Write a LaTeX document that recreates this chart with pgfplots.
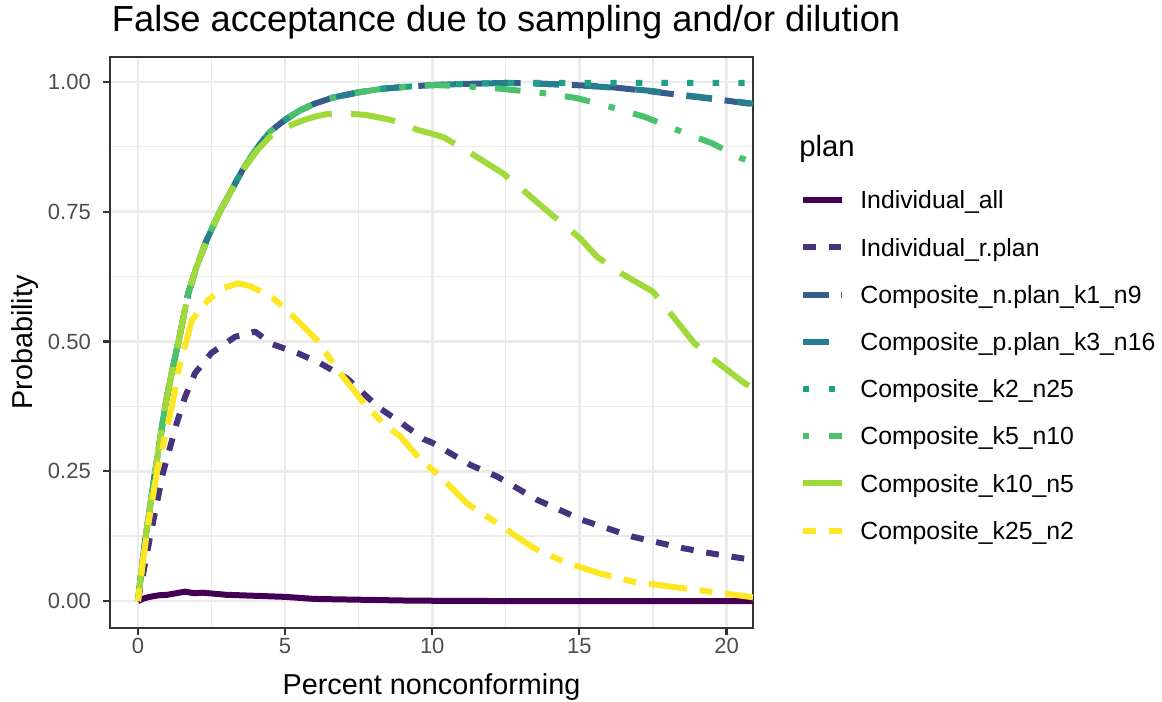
\documentclass[border=0pt]{standalone}
\usepackage{pgfplots}
\pgfplotsset{compat=1.18}
\usepackage{fontspec}
\setmainfont{Liberation Sans}
\definecolor{va}{HTML}{440154}
\definecolor{vb}{HTML}{46337E}
\definecolor{vc}{HTML}{365C8D}
\definecolor{vd}{HTML}{277F8E}
\definecolor{ve}{HTML}{1FA187}
\definecolor{vf}{HTML}{4AC16D}
\definecolor{vg}{HTML}{9FDA3A}
\definecolor{vh}{HTML}{FDE725}
\definecolor{gtwenty}{HTML}{333333}
\definecolor{gthirty}{HTML}{4D4D4D}
\definecolor{gridc}{HTML}{EBEBEB}
\begin{document}
\begin{tikzpicture}
\path[use as bounding box] (0,0) rectangle (871.5pt,525.75pt);
\begin{axis}[
  at={(82.5pt,54.75pt)}, anchor=south west,
  scale only axis, width=482.25pt, height=428.25pt,
  xmin=-0.95, xmax=20.9, ymin=-0.052, ymax=1.048,
  clip mode=individual,
  xtick={0,5,10,15,20}, xticklabels={0,5,10,15,20},
  ytick={0,0.25,0.5,0.75,1}, yticklabels={0.00,0.25,0.50,0.75,1.00},
  minor xtick={2.5,7.5,12.5,17.5},
  minor ytick={0.125,0.375,0.625,0.875},
  grid=both,
  major grid style={gridc, line width=2pt},
  minor grid style={gridc, line width=1pt},
  axis line style={gtwenty, line width=1.6pt},
  tick style={gtwenty, line width=1.6pt},
  tick align=outside, major tick length=5.2pt, minor tick length=0pt,
  xtick pos=bottom, ytick pos=left,
  /pgf/number format/assume math mode=true,
  xticklabel style={anchor=north, inner sep=0pt, yshift=-2pt, text=gthirty, font=\fontsize{16.5}{16.5}\selectfont},
  yticklabel style={anchor=east, inner sep=0pt, xshift=-9pt, text=gthirty, font=\fontsize{16.5}{16.5}\selectfont},
  xlabel={Percent nonconforming},
  ylabel={Probability},
  xlabel style={at={(axis description cs:0.5,-0.1156)}, anchor=base, inner sep=0pt, font=\fontsize{21.6}{21.6}\selectfont},
  ylabel style={at={(axis description cs:-0.132,0.5)}, anchor=center, inner sep=0pt, font=\fontsize{21.6}{21.6}\selectfont},
  legend image code/.code={\draw[#1, line cap=butt] (0pt,0pt) -- (29.25pt,0pt);},
  legend cell align=left,
  legend style={at={(axis description cs:1.0731,0.7907)}, anchor=north west, draw=none, fill=none,
    inner sep=0pt, outer sep=0pt, row sep=0pt, column sep=0pt,
    font=\fontsize{18.6}{18.6}\selectfont,
    nodes={inner sep=0pt, text height=24.3pt, text depth=11.1pt},
    /tikz/every odd column/.append style={column sep=11.5pt}},
  every axis plot/.append style={line width=4.5pt, line cap=butt, line join=round},
]
% Individual_all
\addplot[va] coordinates {(0,0) (0.2,0.005) (0.4,0.008) (0.7,0.011) (1.0,0.012) (1.3,0.015) (1.6,0.018) (1.9,0.015) (2.2,0.016) (2.6,0.014) (3.0,0.012) (3.5,0.011) (4.0,0.010) (4.5,0.009) (5.0,0.008) (5.5,0.006) (6.0,0.004) (7.0,0.003) (8.0,0.002) (9.0,0.001) (10.0,0.0005) (12,0) (20.9,0)};
\addlegendentry{Individual\_all}
% Individual_r.plan
\addplot[vb, dash pattern=on 9.6pt off 9.6pt] coordinates {(0,0) (0.41,0.123) (0.85,0.247) (1.32,0.343) (1.6,0.393) (1.94,0.439) (2.5,0.478) (3.3,0.509) (3.98,0.519) (4.55,0.495) (5.45,0.477) (6.19,0.458) (7.1,0.429) (8.2,0.372) (8.9,0.345) (9.7,0.312) (10.0,0.305) (11.3,0.262) (12.2,0.240) (13.56,0.195) (15.1,0.156) (16.8,0.124) (18.5,0.102) (19.45,0.092) (20.9,0.079)};
\addlegendentry{Individual\_r.plan}
% Composite_n.plan_k1_n9
\addplot[vc, dash pattern=on 19.2pt off 9.6pt] coordinates {(0,0) (0.1,0.05) (0.26,0.123) (0.58,0.247) (0.92,0.374) (1.15,0.44) (1.39,0.503) (1.71,0.593) (2.0,0.645) (2.34,0.696) (2.8,0.752) (3.24,0.798) (3.6,0.835) (4.08,0.875) (4.5,0.905) (5.0,0.927) (5.5,0.945) (6.0,0.958) (6.63,0.970) (7.5,0.980) (8.33,0.987) (9.2,0.991) (10.03,0.994) (11,0.996) (11.73,0.997) (12.5,0.998) (13.5,0.997) (14.8,0.994) (15.9,0.991) (17.4,0.982) (18.8,0.972) (20,0.964) (20.9,0.957)};
\addlegendentry{Composite\_n.plan\_k1\_n9}
% Composite_p.plan_k3_n16
\addplot[vd, dash pattern=on 19.2pt off 19.2pt] coordinates {(0,0) (0.1,0.05) (0.26,0.123) (0.58,0.247) (0.92,0.374) (1.15,0.44) (1.39,0.503) (1.71,0.593) (2.0,0.645) (2.34,0.696) (2.8,0.752) (3.24,0.798) (3.6,0.835) (4.08,0.875) (4.5,0.905) (5.0,0.927) (5.5,0.945) (6.0,0.958) (6.63,0.970) (7.5,0.980) (8.33,0.987) (9.2,0.991) (10.03,0.994) (11,0.996) (11.73,0.997) (12.5,0.998) (13.5,0.997) (14.8,0.994) (15.9,0.990) (17.4,0.983) (18.8,0.973) (20,0.965) (20.9,0.958)};
\addlegendentry{Composite\_p.plan\_k3\_n16}
% Composite_k2_n25
\addplot[ve, dash pattern=on 4.8pt off 14.4pt] coordinates {(0,0) (0.1,0.05) (0.26,0.123) (0.58,0.247) (0.92,0.374) (1.15,0.44) (1.39,0.503) (1.71,0.593) (2.0,0.645) (2.34,0.696) (2.8,0.752) (3.24,0.798) (3.6,0.835) (4.08,0.875) (4.5,0.905) (5.0,0.927) (5.5,0.945) (6.0,0.958) (6.63,0.970) (7.5,0.980) (8.33,0.987) (9.2,0.991) (10.03,0.994) (11,0.996) (11.73,0.997) (12.5,0.998) (14,0.998) (16,0.998) (18,0.998) (20.9,0.998)};
\addlegendentry{Composite\_k2\_n25}
% Composite_k5_n10
\addplot[vf, dash pattern=on 4.8pt off 14.4pt on 19.2pt off 14.4pt] coordinates {(0,0) (0.1,0.05) (0.26,0.123) (0.58,0.247) (0.92,0.374) (1.15,0.44) (1.39,0.503) (1.71,0.593) (2.0,0.645) (2.34,0.696) (2.8,0.752) (3.24,0.798) (3.6,0.835) (4.08,0.875) (4.5,0.905) (5.0,0.927) (5.5,0.945) (6.0,0.958) (6.63,0.970) (7.5,0.980) (8.33,0.987) (9.2,0.991) (10.03,0.994) (11,0.992) (12.3,0.987) (13.7,0.979) (14.9,0.969) (16.05,0.952) (17.2,0.933) (18.3,0.908) (19.5,0.882) (20.5,0.853) (20.9,0.846)};
\addlegendentry{Composite\_k5\_n10}
% Composite_k10_n5
\addplot[vg, dash pattern=on 33.6pt off 14.4pt] coordinates {(0,0) (0.1,0.05) (0.26,0.123) (0.58,0.247) (0.92,0.374) (1.15,0.44) (1.39,0.503) (1.71,0.593) (2.0,0.645) (2.34,0.696) (2.8,0.752) (3.24,0.798) (3.6,0.833) (4.08,0.870) (4.5,0.895) (5.0,0.912) (5.51,0.924) (6.0,0.933) (6.42,0.938) (7.0,0.940) (7.78,0.936) (8.57,0.927) (9.0,0.920) (9.48,0.908) (10.0,0.900) (10.4,0.893) (11.3,0.863) (12.4,0.824) (13.2,0.786) (14.0,0.747) (15.0,0.700) (15.6,0.663) (16.4,0.632) (17.5,0.596) (18.0,0.561) (18.9,0.497) (19.5,0.468) (20.6,0.420) (20.9,0.410)};
\addlegendentry{Composite\_k10\_n5}
% Composite_k25_n2
\addplot[vh, dash pattern=on 9.6pt off 9.6pt on 28.8pt off 9.6pt] coordinates {(0,0) (0.1,0.045) (0.28,0.123) (0.64,0.247) (1.15,0.374) (1.43,0.458) (1.66,0.503) (1.83,0.541) (2.39,0.580) (2.9,0.603) (3.41,0.612) (3.8,0.607) (4.15,0.597) (4.6,0.583) (5.06,0.561) (5.74,0.522) (6.08,0.503) (6.87,0.439) (7.78,0.374) (8.46,0.336) (8.9,0.318) (9.6,0.272) (10.16,0.246) (11.18,0.188) (12.2,0.150) (13.45,0.102) (14.5,0.075) (15.7,0.053) (16.85,0.037) (18.55,0.0245) (20.8,0.008) (20.9,0.007)};
\addlegendentry{Composite\_k25\_n2}
\node[anchor=base west, inner sep=0pt, font=\fontsize{22}{22}\selectfont] at (axis description cs:1.0715,0.8254) {plan};
\node[anchor=base west, inner sep=0pt, font=\fontsize{27.2}{27.2}\selectfont] at (axis description cs:0.0026,1.0443) {False acceptance due to sampling and/or dilution};
\end{axis}
\end{tikzpicture}
\end{document}
